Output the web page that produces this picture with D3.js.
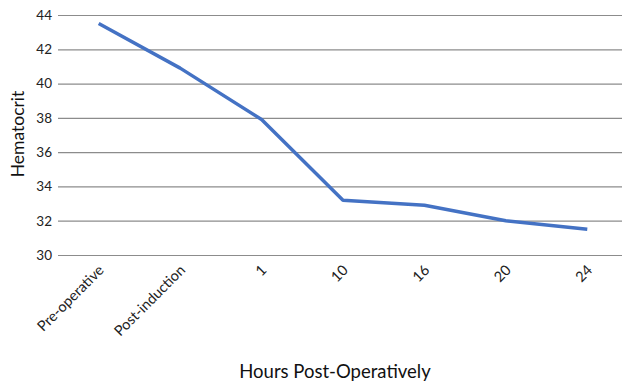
<!DOCTYPE html>
<html>
<head>
<meta charset="utf-8">
<script src="https://cdn.jsdelivr.net/npm/d3@7"></script>
<style>
  html, body { margin: 0; padding: 0; background: #fff; }
  svg { display: block; font-family: Lato, "Open Sans", sans-serif; }
</style>
</head>
<body>
<svg id="chart" width="622" height="385"></svg>
<script>
// Mean hematocrit over the perioperative period
const categories = ["Pre-operative", "Post-induction", "1", "10", "16", "20", "24"];
const hematocrit = [43.5, 40.9, 37.9, 33.2, 32.9, 32.0, 31.5];
const yTicks = [30, 32, 34, 36, 38, 40, 42, 44];

const svg = d3.select("#chart");
const margin = { left: 58, top: 15 };
const plotRight = 628;
const plotBottom = 255;
const font = "Lato, 'Open Sans', sans-serif";

const x = d3.scaleBand().domain(categories).range([margin.left, plotRight]);
const y = d3.scaleLinear().domain([30, 44]).range([plotBottom, margin.top]);

// horizontal gridlines
svg.append("g")
  .selectAll("line")
  .data(yTicks)
  .join("line")
  .attr("x1", margin.left).attr("x2", plotRight)
  .attr("y1", d => y(d) + 0.5).attr("y2", d => y(d) + 0.5)
  .attr("stroke", "#8c8c8c").attr("stroke-width", 1.2);

// y axis labels
const yAxis = svg.append("g")
  .attr("transform", `translate(${margin.left},0)`)
  .call(d3.axisLeft(y).tickValues(yTicks).tickSize(0).tickPadding(6));
yAxis.select(".domain").remove();
yAxis.selectAll("text")
  .attr("font-size", 13.5).attr("fill", "#222")
  .style("font-family", font);

// x axis labels, rotated
const xAxis = svg.append("g")
  .attr("transform", `translate(0,${plotBottom})`)
  .call(d3.axisBottom(x).tickSize(0).tickPadding(0));
xAxis.select(".domain").remove();
xAxis.selectAll("text")
  .attr("font-size", 14.5).attr("fill", "#222")
  .style("font-family", font)
  .attr("text-anchor", "end")
  .attr("dy", "0")
  .attr("transform", "translate(6,16) rotate(-45)");

// data line
const line = d3.line()
  .x((d, i) => x(categories[i]) + x.bandwidth() / 2)
  .y(d => y(d));

svg.append("path")
  .datum(hematocrit)
  .attr("d", line)
  .attr("fill", "none")
  .attr("stroke", "#4472C4")
  .attr("stroke-width", 3.5)
  .attr("stroke-linejoin", "round")
  .attr("stroke-linecap", "butt");

// axis titles
svg.append("text")
  .attr("transform", "translate(24,134) rotate(-90)")
  .attr("text-anchor", "middle")
  .attr("font-size", 17.5).attr("fill", "#111")
  .text("Hematocrit");

svg.append("text")
  .attr("x", 335).attr("y", 378)
  .attr("text-anchor", "middle")
  .attr("font-size", 18.5).attr("fill", "#111")
  .text("Hours Post-Operatively");
</script>
</body>
</html>
